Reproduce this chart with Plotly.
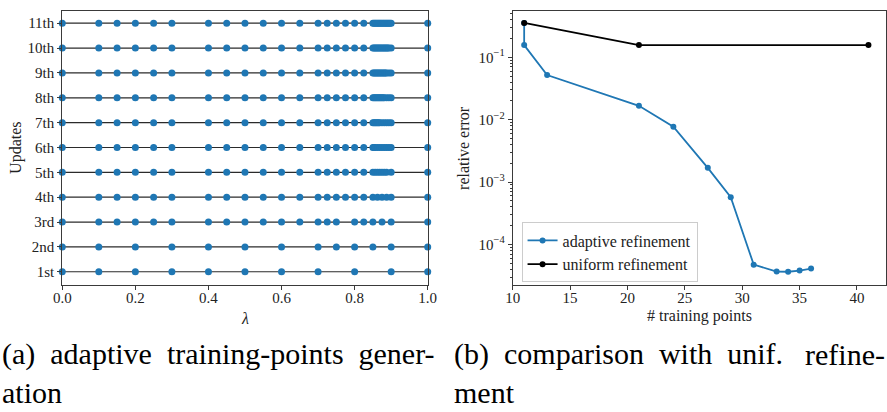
import plotly.graph_objects as go

# ---------------- data ----------------
update_labels = ["1st", "2nd", "3rd", "4th", "5th", "6th", "7th", "8th", "9th", "10th", "11th"]

# training points added at each update (cumulative rows)
added_points = [
    [0.0, 0.1, 0.2, 0.3, 0.4, 0.5, 0.6, 0.7, 0.8, 0.9, 1.0],
    [0.75, 0.85],
    [0.15, 0.25, 0.45, 0.55, 0.65, 0.725, 0.825, 0.875],
    [0.775, 0.8625, 0.8875],
    [0.85625, 0.86875, 0.88125],
    [0.853125, 0.89375],
    [0.859375, 0.865625],
    [0.871875, 0.878125],
    [0.884375],
    [0.890625],
    [0.896875],
]

n_adaptive = [11, 11, 13, 21, 24, 27, 29, 31, 33, 34, 35, 36]
err_adaptive = [0.356, 0.157, 0.052, 0.0167, 0.0077, 0.00169, 0.000573,
                4.75e-5, 3.67e-5, 3.65e-5, 3.81e-5, 4.1e-5]
n_uniform = [11, 21, 41]
err_uniform = [0.356, 0.157, 0.157]

x_ticks_left = [0.0, 0.2, 0.4, 0.6, 0.8, 1.0]
x_ticks_right = [10, 15, 20, 25, 30, 35, 40]
y_ticks_right = [1e-4, 1e-3, 1e-2, 1e-1]
y_ticktext_right = ["10<sup>−4</sup>", "10<sup>−3</sup>", "10<sup>−2</sup>", "10<sup>−1</sup>"]

FONT = "Liberation Serif, Times New Roman, DejaVu Serif, serif"
BLUE = "#1f77b4"
AX = "#3a3a3a"

fig = go.Figure()

# ---------------- left panel ----------------
current = []
for i, pts in enumerate(added_points):
    current = sorted(set(current) | set(pts))
    fig.add_trace(go.Scatter(
        x=current, y=[i + 1] * len(current),
        mode="lines+markers",
        line=dict(color="#2b2b2b", width=1.2),
        marker=dict(color=BLUE, size=7),
        cliponaxis=False, showlegend=False,
        xaxis="x", yaxis="y",
    ))

# ---------------- right panel ----------------
fig.add_trace(go.Scatter(
    x=n_adaptive, y=err_adaptive, mode="lines+markers",
    name="adaptive refinement",
    line=dict(color=BLUE, width=1.8), marker=dict(color=BLUE, size=6),
    xaxis="x2", yaxis="y2",
))
fig.add_trace(go.Scatter(
    x=n_uniform, y=err_uniform, mode="lines+markers",
    name="uniform refinement",
    line=dict(color="black", width=1.8), marker=dict(color="black", size=6),
    xaxis="x2", yaxis="y2",
))

axis_common = dict(showline=True, mirror=True, linecolor=AX, linewidth=1,
                   ticks="outside", ticklen=4, tickcolor=AX, tickwidth=1,
                   showgrid=False, zeroline=False, automargin=False,
                   tickfont=dict(family=FONT, size=15, color="#222"))

minor_vals = [m * 10 ** e for e in range(-5, 0) for m in range(2, 10)]

fig.update_layout(
    width=887, height=412,
    margin=dict(l=0, r=0, t=0, b=0, autoexpand=False),
    plot_bgcolor="white", paper_bgcolor="white",
    font=dict(family=FONT, color="#222"),
    xaxis=dict(domain=[0.0702, 0.4822], range=[0, 1], anchor="y",
               tickvals=x_ticks_left, tickformat=".1f", ticklabelstandoff=-5,
               **axis_common),
    yaxis=dict(domain=[0.309, 0.9726], range=[0.48, 11.48], anchor="x",
               tickvals=list(range(1, 12)), ticktext=update_labels, **axis_common),
    xaxis2=dict(domain=[0.578, 0.9985], range=[10, 42.5], anchor="y2",
                tickvals=x_ticks_right, ticklabelstandoff=-5, **axis_common),
    yaxis2=dict(domain=[0.309, 0.9726], type="log", range=[-4.645, -0.262], anchor="x2",
                tickvals=y_ticks_right, ticktext=y_ticktext_right,
                minor=dict(tickvals=minor_vals, ticks="outside", ticklen=2,
                           tickcolor=AX, showgrid=False),
                **axis_common),
    legend=dict(x=0.588, y=0.46, xanchor="left", yanchor="top",
                bordercolor="#cccccc", borderwidth=1,
                bgcolor="rgba(255,255,255,0.8)",
                font=dict(family=FONT, size=16, color="#222"),
                tracegroupgap=0),
)

ann = [
    dict(text="Updates", x=16 / 887, y=0.641, textangle=-90, size=16),
    dict(text="<i>λ</i>", x=245 / 887, y=0.226, size=16),
    dict(text="relative error", x=464 / 887, y=0.641, textangle=-90, size=16),
    dict(text="# training points", x=699 / 887, y=0.234, size=16),
]
for a in ann:
    fig.add_annotation(text=a["text"], x=a["x"], y=a["y"], xref="paper", yref="paper",
                       showarrow=False, textangle=a.get("textangle", 0),
                       xanchor="center", yanchor="middle",
                       font=dict(family=FONT, size=a["size"], color="#222"))

SP = "\u2002"
captions = [
    ("(a)" + SP + "adaptive" + SP + "training-points" + SP + "gener-", 0.0, 0.14, "left"),
    ("ation", 0.0, 0.048, "left"),
    ("(b)" + SP + "comparison" + SP + "with" + SP + "unif.", 452 / 887, 0.14, "left"),
    ("refine-", 1.0, 0.14, "right"),
    ("ment", 452 / 887, 0.048, "left"),
]
for t, x, y, xa in captions:
    fig.add_annotation(text=t, x=x, y=y, xref="paper", yref="paper", showarrow=False,
                       xanchor=xa, yanchor="middle",
                       font=dict(family=FONT, size=30, color="black"))

fig.write_html("out.html", config={"displayModeBar": False},
               post_script="document.body.style.margin='0';document.body.style.overflow='hidden';")
